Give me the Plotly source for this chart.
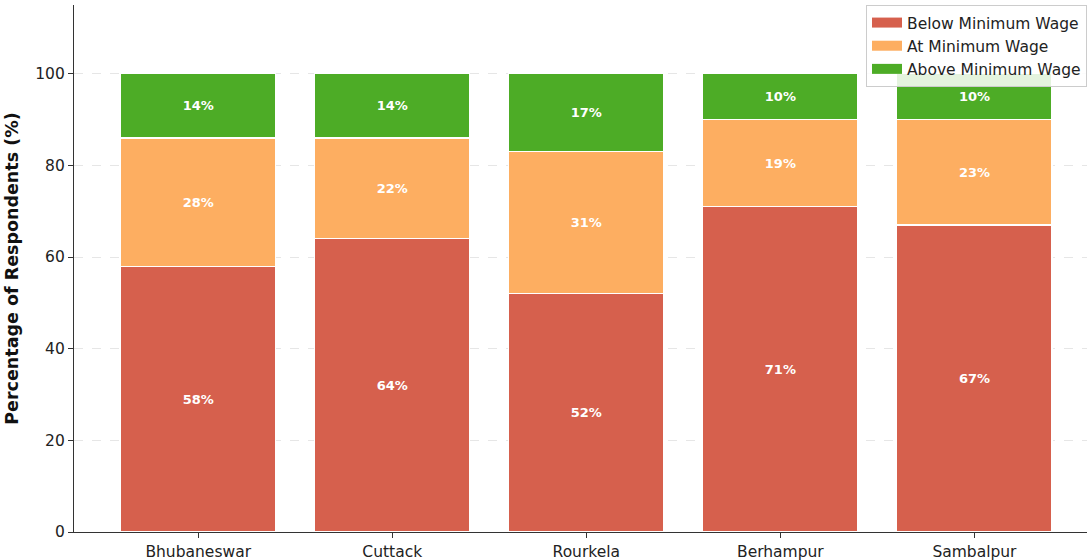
import plotly.graph_objects as go

cities = ["Bhubaneswar", "Cuttack", "Rourkela", "Berhampur", "Sambalpur"]
below_min = [58, 64, 52, 71, 67]
at_min = [28, 22, 31, 19, 23]
above_min = [14, 14, 17, 10, 10]
y_ticks = [0, 20, 40, 60, 80, 100]

series = [
    ("Below Minimum Wage", below_min, "#d6604d"),
    ("At Minimum Wage", at_min, "#fdae61"),
    ("Above Minimum Wage", above_min, "#4dac26"),
]

fig = go.Figure()
for name, vals, color in series:
    fig.add_trace(go.Bar(
        x=list(range(len(cities))),
        y=vals,
        name=name,
        width=0.8,
        marker=dict(color=color, line=dict(color="white", width=1.2)),
        text=[f"{v}%" for v in vals],
        textposition="inside",
        insidetextanchor="middle",
        textangle=0,
        textfont=dict(family="DejaVu Sans", size=13, color="white", weight="bold"),
        hoverinfo="skip",
        showlegend=False,
    ))

# legend entries drawn as wide swatches
for name, vals, color in series:
    fig.add_trace(go.Scatter(
        x=[None], y=[None], mode="lines", name=name,
        line=dict(color=color, width=10),
        showlegend=True, hoverinfo="skip",
    ))

fig.update_layout(
    barmode="stack",
    width=1087,
    height=560,
    margin=dict(l=74, r=0, t=5, b=28),
    plot_bgcolor="white",
    paper_bgcolor="white",
    font=dict(family="DejaVu Sans", size=15.5, color="#222222"),
    showlegend=True,
    legend=dict(
        x=1.0, y=1.0, xanchor="right", yanchor="top",
        bgcolor="rgba(255,255,255,0.85)",
        bordercolor="#cccccc", borderwidth=1,
        font=dict(family="DejaVu Sans", size=15.5, color="#222222"),
        traceorder="normal",
        tracegroupgap=0,
    ),
    xaxis=dict(
        range=[-0.64, 4.58],
        tickmode="array",
        tickvals=list(range(len(cities))),
        ticktext=cities,
        showgrid=False,
        showline=True, linecolor="#333333", linewidth=1.2,
        ticks="outside", ticklen=5, tickcolor="#333333",
        tickfont=dict(size=15.5),
        zeroline=False,
    ),
    yaxis=dict(
        range=[0, 115],
        tickmode="array",
        tickvals=y_ticks,
        showgrid=True, gridcolor="#e6e6e6", griddash="dash", gridwidth=1,
        showline=True, linecolor="#333333", linewidth=1.2,
        ticks="outside", ticklen=5, tickcolor="#333333",
        tickfont=dict(size=15.5),
        zeroline=False,
        title=dict(text="Percentage of Respondents (%)",
                   font=dict(size=17.5, weight="bold", color="#111111"), standoff=12),
    ),
)

fig.write_html("out.html")
